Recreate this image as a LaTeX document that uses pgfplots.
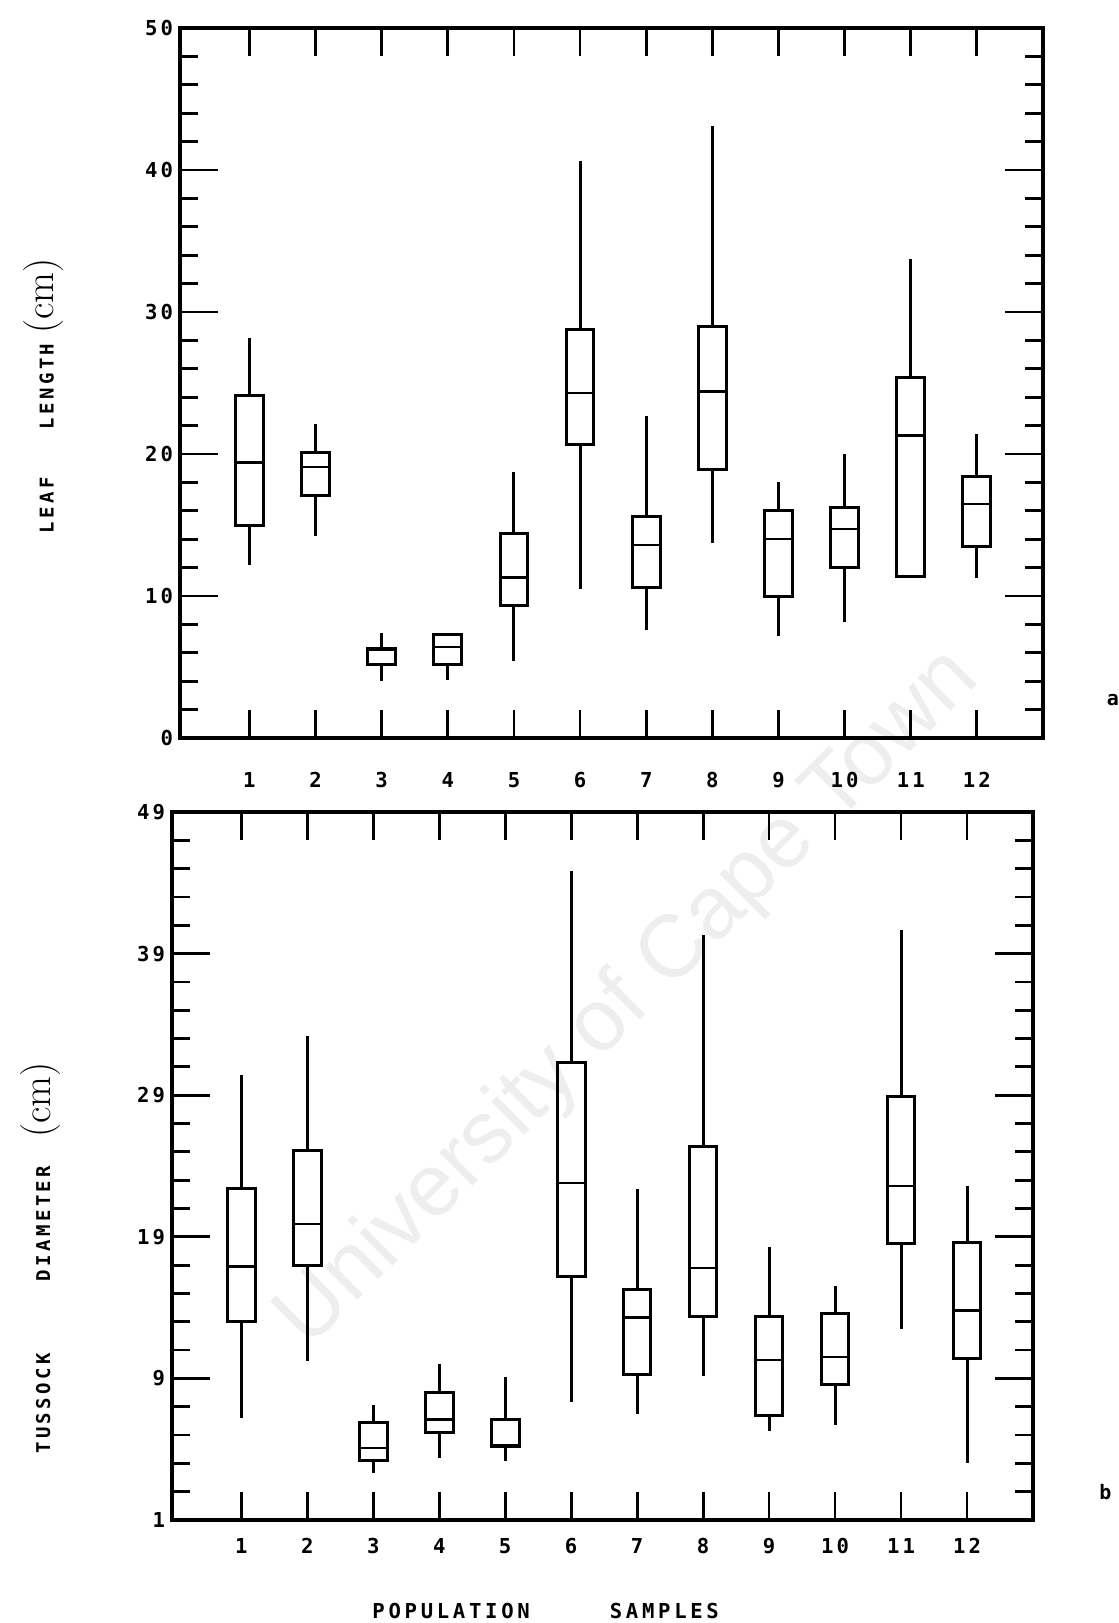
\documentclass[border=0pt]{standalone}
\usepackage{fontspec}
\usepackage{pgfplots}
\pgfplotsset{compat=1.18}
\usepgfplotslibrary{statistics}
\newfontfamily\tickfont[LetterSpace=15]{DejaVu Sans Mono}
\newfontfamily\labfont[LetterSpace=18]{DejaVu Sans Mono}
\newfontfamily\xlabfont[LetterSpace=18]{DejaVu Sans Mono}
\newfontfamily\wmfont{Liberation Sans}

% box: position, lower whisker, lower quartile, median, upper quartile, upper whisker
\newcommand{\bx}[6]{\addplot[black, solid, line width=1.5pt,
  boxplot prepared={draw position=#1, lower whisker=#2, lower quartile=#3,
  median=#4, upper quartile=#5, upper whisker=#6,
  draw direction=y, box extend=0.42, whisker extend=0,
  every median/.style={line width=1.2pt}}] coordinates {};}

\pgfplotsset{
  panel/.style={
    scale only axis, clip=false,
    xmin=-0.05, xmax=13,
    axis line style={line width=2.2pt, black},
    tick align=inside,
    xtick=\empty,
    extra x ticks={1,2,3,4,5,6,7,8,9,10,11,12},
    major tick length=19pt, minor tick length=9pt,
    minor y tick num=4,
    tick style={line width=1.4pt, black},
    tick label style={font=\fontsize{10.3}{12}\tickfont\bfseries},
    /pgf/number format/assume math mode=true,
  }
}

\begin{document}
\begin{tikzpicture}
\useasboundingbox (0pt,0pt) rectangle (559.5pt,-811.5pt);

\node[rotate=44.8, text=gray!13, font=\fontsize{44}{44}\wmfont] at (314.5pt,-499.5pt) {University of Cape Town};

% ---------- panel a ----------
\begin{axis}[panel,
  at={(90pt,-14pt)}, anchor=north west,
  width=431.5pt, height=355pt,
  ymin=0, ymax=50, ytick={0,10,20,30,40,50},
  extra x tick style={major tick length=14pt, xticklabel style={yshift=-13.6pt}},
  ylabel={{\fontsize{9.5}{11}\labfont\bfseries LEAF\hspace{24pt}LENGTH\hspace{5pt}}{\fontsize{20}{20}\selectfont (cm)}},
  ylabel style={at={(axis description cs:-0.158,0.482)}, anchor=center},
]
\bx{1}{12.2}{15.0}{19.4}{24.1}{28.2}
\bx{2}{14.2}{17.1}{19.1}{20.1}{22.1}
\bx{3}{4.0}{5.2}{6.2}{6.3}{7.4}
\bx{4}{4.1}{5.2}{6.4}{7.3}{7.4}
\bx{5}{5.4}{9.3}{11.3}{14.4}{18.7}
\bx{6}{10.5}{20.7}{24.3}{28.8}{40.6}
\bx{7}{7.6}{10.6}{13.6}{15.6}{22.7}
\bx{8}{13.7}{18.9}{24.4}{29.0}{43.1}
\bx{9}{7.2}{10.0}{14.0}{16.0}{18.0}
\bx{10}{8.2}{12.0}{14.7}{16.2}{20.0}
\bx{11}{11.4}{11.4}{21.3}{25.4}{33.7}
\bx{12}{11.3}{13.5}{16.5}{18.4}{21.4}
\node[font=\fontsize{10}{12}\tickfont\bfseries] at (axis description cs:1.081,0.054) {a};
\end{axis}

% ---------- panel b ----------
\begin{axis}[panel,
  at={(86pt,-406pt)}, anchor=north west,
  width=430.5pt, height=354pt,
  ymin=-1, ymax=49, ytick={-1,9,19,29,39,49}, yticklabels={1,9,19,29,39,49},
  extra x tick style={major tick length=14pt, xticklabel style={yshift=-5.6pt}},
  ylabel={{\fontsize{9.5}{11}\labfont\bfseries TUSSOCK\hspace{36pt}DIAMETER\hspace{14pt}}{\fontsize{20}{20}\selectfont (cm)}},
  ylabel style={at={(axis description cs:-0.153,0.37)}, anchor=center},
  xlabel={\fontsize{10.3}{12}\xlabfont\bfseries POPULATION\hspace{40pt}SAMPLES},
  xlabel style={at={(axis description cs:0.434,-0.129)}, anchor=center},
]
\bx{1}{6.2}{13.0}{16.9}{22.4}{30.4}
\bx{2}{10.2}{17.0}{19.9}{25.1}{33.2}
\bx{3}{2.3}{3.2}{4.1}{5.9}{7.1}
\bx{4}{3.4}{5.2}{6.1}{8.0}{10.0}
\bx{5}{3.2}{4.2}{4.3}{6.1}{9.1}
\bx{6}{7.3}{16.2}{22.8}{31.3}{44.8}
\bx{7}{6.5}{9.3}{13.3}{15.3}{22.4}
\bx{8}{9.2}{13.4}{16.8}{25.4}{40.3}
\bx{9}{5.3}{6.4}{10.3}{13.4}{18.3}
\bx{10}{5.7}{8.6}{10.5}{13.6}{15.5}
\bx{11}{12.5}{18.5}{22.6}{28.9}{40.7}
\bx{12}{3.0}{10.4}{13.8}{18.6}{22.6}
\node[font=\fontsize{10}{12}\tickfont\bfseries] at (axis description cs:1.084,0.04) {b};
\end{axis}
\end{tikzpicture}
\end{document}
